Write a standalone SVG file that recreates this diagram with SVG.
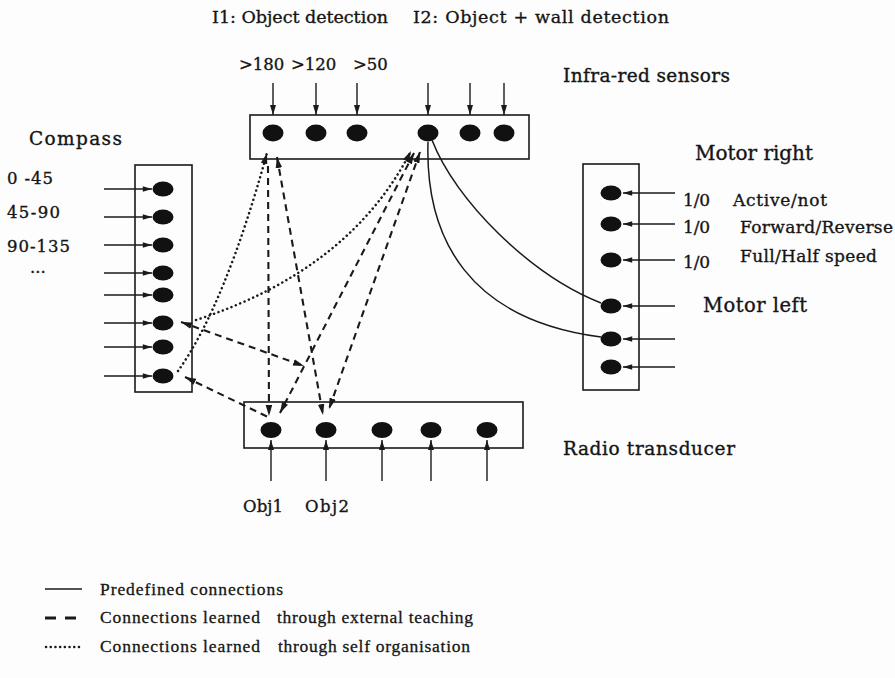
<svg xmlns="http://www.w3.org/2000/svg" width="895" height="678" viewBox="0 0 895 678">
<style>
text{font-family:"DejaVu Serif","Liberation Serif",serif;fill:#151515;stroke:#151515;stroke-width:0.35}
.lg{font-family:"Liberation Serif","DejaVu Serif",serif;font-size:17.5px;stroke-width:0.3}
.box{fill:none;stroke:#1a1a1a;stroke-width:1.6}
.n{fill:#111}
.in{stroke:#1a1a1a;stroke-width:1.4;fill:none}
.pre{stroke:#1a1a1a;stroke-width:1.5;fill:none}
.ext{stroke:#1a1a1a;stroke-width:2.1;stroke-dasharray:7 5;fill:none}
.self{stroke:#1a1a1a;stroke-width:2.5;stroke-dasharray:0.1 4.6;stroke-linecap:round;fill:none}
</style>
<defs>
<marker id="ai" viewBox="0 0 10 6" refX="10" refY="3" markerWidth="10" markerHeight="6" markerUnits="userSpaceOnUse" orient="auto"><path d="M0,0 L10,3 L0,6 z" fill="#1a1a1a"/></marker>
<marker id="al" viewBox="0 0 10 6" refX="10" refY="3" markerWidth="14" markerHeight="5.5" markerUnits="userSpaceOnUse" orient="auto"><path d="M0,0 L10,3 L0,6 z" fill="#1a1a1a"/></marker>
<marker id="ad" viewBox="0 0 10 6" refX="10" refY="3" markerWidth="11" markerHeight="7" markerUnits="userSpaceOnUse" orient="auto-start-reverse"><path d="M0,0 L10,3 L0,6 z" fill="#1a1a1a"/></marker>
</defs>
<rect x="0" y="0" width="895" height="678" fill="#fdfdfd"/>

<g id="titles">
<text x="212" y="23" font-size="17.5" textLength="176">I1: Object detection</text>
<text x="413" y="23" font-size="17.5" textLength="256">I2: Object + wall detection</text>
<text x="239" y="70" font-size="16.5">&gt;180</text>
<text x="291" y="70" font-size="16.5">&gt;120</text>
<text x="353" y="70" font-size="16.5">&gt;50</text>
</g>

<g id="ir-sensors">
<rect class="box" x="250" y="115" width="279" height="44"/>
<ellipse class="n" cx="273" cy="133" rx="10.5" ry="8.5"/>
<ellipse class="n" cx="316" cy="133" rx="10.5" ry="8.5"/>
<ellipse class="n" cx="357" cy="133" rx="10.5" ry="8.5"/>
<ellipse class="n" cx="428" cy="133" rx="10.5" ry="8.5"/>
<ellipse class="n" cx="470" cy="133" rx="10.5" ry="8.5"/>
<ellipse class="n" cx="504" cy="133" rx="10.5" ry="8.5"/>
<text x="563" y="82" font-size="18.5" textLength="167">Infra-red sensors</text>
</g>

<g id="compass">
<rect class="box" x="135" y="165" width="57" height="227"/>
<ellipse class="n" cx="163" cy="189" rx="10.5" ry="7.5"/>
<ellipse class="n" cx="163" cy="217" rx="10.5" ry="7.5"/>
<ellipse class="n" cx="163" cy="245" rx="10.5" ry="7.5"/>
<ellipse class="n" cx="163" cy="273" rx="10.5" ry="7.5"/>
<ellipse class="n" cx="163" cy="295" rx="10.5" ry="7.5"/>
<ellipse class="n" cx="163" cy="323" rx="10.5" ry="7.5"/>
<ellipse class="n" cx="163" cy="347" rx="10.5" ry="7.5"/>
<ellipse class="n" cx="163" cy="376" rx="10.5" ry="7.5"/>
<text x="29" y="145" font-size="18.5" textLength="93">Compass</text>
<text x="7" y="184" font-size="16.5" textLength="46">0 -45</text>
<text x="7" y="218" font-size="16.5" textLength="53">45-90</text>
<text x="7" y="252" font-size="16.5" textLength="63">90-135</text>
<text x="30" y="273" font-size="16.5">...</text>
</g>

<g id="motors">
<rect class="box" x="583" y="164" width="56" height="226"/>
<ellipse class="n" cx="611" cy="193" rx="10.5" ry="7.5"/>
<ellipse class="n" cx="611" cy="224" rx="10.5" ry="7.5"/>
<ellipse class="n" cx="611" cy="260" rx="10.5" ry="7.5"/>
<ellipse class="n" cx="611" cy="306" rx="10.5" ry="7.5"/>
<ellipse class="n" cx="611" cy="339" rx="10.5" ry="7.5"/>
<ellipse class="n" cx="611" cy="367" rx="10.5" ry="7.5"/>
<text x="695" y="160" font-size="20" textLength="118">Motor right</text>
<text x="683" y="206" font-size="17" textLength="27">1/0</text>
<text x="683" y="233" font-size="17" textLength="27">1/0</text>
<text x="683" y="268" font-size="17" textLength="27">1/0</text>
<text x="733" y="206" font-size="17" textLength="94">Active/not</text>
<text x="740" y="233" font-size="17" textLength="153">Forward/Reverse</text>
<text x="740" y="262" font-size="17" textLength="137">Full/Half speed</text>
<text x="703" y="312" font-size="19.5" textLength="104">Motor left</text>
</g>

<g id="radio">
<rect class="box" x="244" y="402" width="279" height="46"/>
<ellipse class="n" cx="271" cy="430" rx="10.5" ry="8"/>
<ellipse class="n" cx="326" cy="430" rx="10.5" ry="8"/>
<ellipse class="n" cx="382" cy="430" rx="10.5" ry="8"/>
<ellipse class="n" cx="431" cy="430" rx="10.5" ry="8"/>
<ellipse class="n" cx="487" cy="430" rx="10.5" ry="8"/>
<text x="563" y="455" font-size="18.5" textLength="172">Radio transducer</text>
<text x="243" y="512" font-size="16.5" textLength="40">Obj1</text>
<text x="305" y="512" font-size="16.5" textLength="44">Obj2</text>
</g>

<g id="connectors">
<g marker-end="url(#ai)" class="in">
<line x1="273" y1="83" x2="273" y2="115"/>
<line x1="316" y1="83" x2="316" y2="115"/>
<line x1="357" y1="83" x2="357" y2="115"/>
<line x1="428" y1="83" x2="428" y2="115"/>
<line x1="470" y1="83" x2="470" y2="115"/>
<line x1="504" y1="83" x2="504" y2="115"/>
<line x1="271" y1="481" x2="271" y2="440"/>
<line x1="326" y1="481" x2="326" y2="440"/>
<line x1="382" y1="481" x2="382" y2="440"/>
<line x1="431" y1="481" x2="431" y2="440"/>
<line x1="487" y1="481" x2="487" y2="440"/>
</g>
<g marker-end="url(#al)" class="in">
<line x1="104" y1="189" x2="152" y2="189"/>
<line x1="104" y1="217" x2="152" y2="217"/>
<line x1="104" y1="245" x2="152" y2="245"/>
<line x1="104" y1="273" x2="152" y2="273"/>
<line x1="104" y1="295" x2="152" y2="295"/>
<line x1="104" y1="323" x2="152" y2="323"/>
<line x1="104" y1="347" x2="152" y2="347"/>
<line x1="104" y1="376" x2="152" y2="376"/>
<line x1="675" y1="193" x2="623" y2="193"/>
<line x1="675" y1="224" x2="623" y2="224"/>
<line x1="675" y1="260" x2="623" y2="260"/>
<line x1="675" y1="306" x2="623" y2="306"/>
<line x1="675" y1="339" x2="623" y2="339"/>
<line x1="675" y1="367" x2="623" y2="367"/>
</g>
<path class="pre" d="M432,140 C455,200 530,275 601,303"/>
<path class="pre" d="M428,142 C425,240 470,320 601,337"/>
<path class="ext" d="M268,166 L269,416" marker-end="url(#ad)"/>
<path class="ext" d="M277,157 L323,415" marker-start="url(#ad)" marker-end="url(#ad)"/>
<path class="ext" d="M414,153 L280,413" marker-start="url(#ad)" marker-end="url(#ad)"/>
<path class="ext" d="M420,152 L329,409" marker-start="url(#ad)" marker-end="url(#ad)"/>
<path class="ext" d="M181,322 L304,366" marker-start="url(#ad)" marker-end="url(#ad)"/>
<path class="ext" d="M185,377 L268,417" marker-start="url(#ad)"/>
<path class="self" d="M178,371 Q225,305 267,153" marker-end="url(#ad)"/>
<path class="self" d="M196,320 Q350,270 411,151" marker-end="url(#ad)"/>
</g>

<g id="legend">
<line class="pre" x1="45" y1="589" x2="82" y2="589"/>
<line x1="45" y1="618" x2="80" y2="618" stroke="#1a1a1a" stroke-width="3" stroke-dasharray="11 9"/>
<line class="self" x1="46" y1="647" x2="82" y2="647"/>
<text class="lg" x="100" y="595" textLength="183">Predefined connections</text>
<text class="lg" x="100" y="623" textLength="160">Connections learned</text>
<text class="lg" x="277" y="623" textLength="196">through external teaching</text>
<text class="lg" x="100" y="652" textLength="160">Connections learned</text>
<text class="lg" x="278" y="652" textLength="192">through self organisation</text>
</g>
</svg>
